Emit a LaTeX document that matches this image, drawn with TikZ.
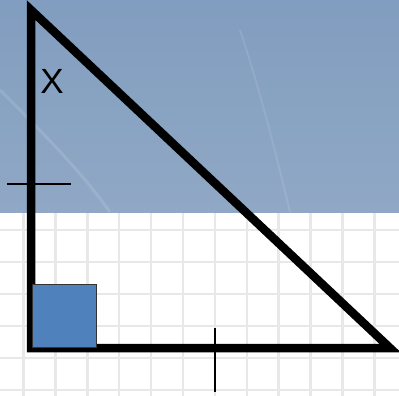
\documentclass[tikz,border=0pt]{standalone}
\usepackage{fontspec}
\setmainfont{Liberation Sans}
\definecolor{skytop}{HTML}{819DBF}
\definecolor{skybot}{HTML}{90A8C5}
\definecolor{gridc}{HTML}{E8E8E8}
\definecolor{sqfill}{HTML}{4F81BD}
\tikzset{
  leg/.style={line width=8.5pt, line join=miter, miter limit=20},
  tickmark/.style={line width=1.5pt, black},
  gridline/.style={line width=2.5pt, gridc},
}
\begin{document}
\begin{tikzpicture}[x=1pt,y=-1pt]
\useasboundingbox (0,0) rectangle (399,396);
\fill[white] (0,0) rectangle (399,396);
% grid
\foreach \k in {0,...,11} \draw[gridline] ({23.5+31.9*\k},212) -- ({23.5+31.9*\k},396);
\foreach \k in {0,...,5} \draw[gridline] (0,{230+32*\k}) -- (399,{230+32*\k});
% sky band
\shade[top color=skytop, bottom color=skybot] (0,0) rectangle (399,212);
\draw[white, opacity=0.12, line width=3pt] (0,90) .. controls (40,130) and (80,170) .. (110,212);
\draw[white, opacity=0.1, line width=2pt] (240,30) .. controls (260,90) and (275,150) .. (290,212);
% triangle
\coordinate (A) at (31,10);
\coordinate (B) at (31,348);
\coordinate (C) at (390,348);
\draw[leg] (A) -- (B) -- (C) -- cycle;
% right-angle square
\draw[fill=sqfill, draw=black!80, line width=0.8pt] (32,284) rectangle (96,347);
% tick marks
\coordinate (t1a) at (7,184); \coordinate (t1b) at (71,184);
\coordinate (t2a) at (215,328); \coordinate (t2b) at (215,392);
\draw[tickmark] (t1a) -- (t1b);
\draw[tickmark] (t2a) -- (t2b);
% label
\node[font=\fontsize{35}{35}\selectfont, inner sep=0pt] (x) at (52,81) {X};
\end{tikzpicture}
\end{document}
